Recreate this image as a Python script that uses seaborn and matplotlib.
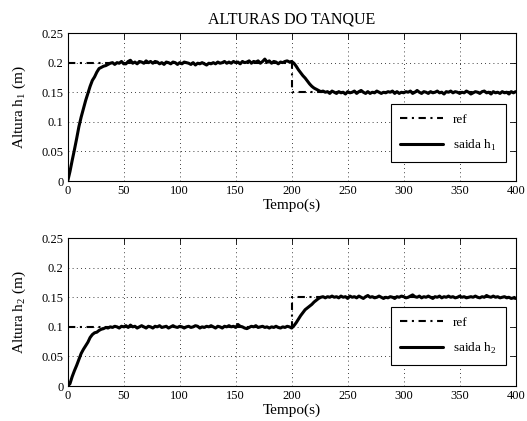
import numpy as np
import seaborn as sns
import matplotlib.pyplot as plt

# ---------------- Data ----------------
# sample times of the simulated tank levels (every 2 s)
tempo = np.arange(0, 401, 2)

# level of tank 1 (m)
h1 = [
    0.000, 0.016, 0.035, 0.053, 0.072, 0.092, 0.108, 0.122, 0.136, 0.148,
    0.160, 0.170, 0.176, 0.184, 0.190, 0.192, 0.194, 0.195, 0.197, 0.199,
    0.200, 0.197, 0.200, 0.199, 0.202, 0.198, 0.198, 0.202, 0.204, 0.199,
    0.201, 0.198, 0.202, 0.201, 0.199, 0.203, 0.200, 0.202, 0.199, 0.202,
    0.201, 0.198, 0.200, 0.197, 0.201, 0.200, 0.198, 0.201, 0.200, 0.197,
    0.200, 0.198, 0.201, 0.200, 0.199, 0.197, 0.200, 0.196, 0.199, 0.198,
    0.200, 0.198, 0.196, 0.199, 0.198, 0.200, 0.198, 0.201, 0.199, 0.200,
    0.202, 0.199, 0.201, 0.199, 0.202, 0.200, 0.201, 0.198, 0.202, 0.200,
    0.201, 0.203, 0.199, 0.202, 0.201, 0.203, 0.199, 0.202, 0.206, 0.201,
    0.203, 0.199, 0.202, 0.201, 0.198, 0.201, 0.200, 0.202, 0.203, 0.201,
    0.202, 0.199, 0.194, 0.188, 0.183, 0.178, 0.174, 0.169, 0.164, 0.160,
    0.157, 0.155, 0.153, 0.151, 0.152, 0.150, 0.151, 0.148, 0.152, 0.150,
    0.148, 0.151, 0.149, 0.150, 0.147, 0.151, 0.149, 0.150, 0.152, 0.148,
    0.151, 0.153, 0.150, 0.148, 0.151, 0.148, 0.150, 0.149, 0.152, 0.150,
    0.148, 0.150, 0.149, 0.151, 0.150, 0.152, 0.148, 0.151, 0.148, 0.150,
    0.149, 0.151, 0.150, 0.152, 0.148, 0.150, 0.153, 0.150, 0.148, 0.151,
    0.150, 0.148, 0.151, 0.149, 0.150, 0.152, 0.149, 0.150, 0.147, 0.151,
    0.150, 0.152, 0.149, 0.151, 0.150, 0.148, 0.150, 0.149, 0.152, 0.150,
    0.147, 0.149, 0.151, 0.150, 0.148, 0.151, 0.152, 0.149, 0.150, 0.147,
    0.151, 0.149, 0.150, 0.148, 0.151, 0.149, 0.150, 0.147, 0.151, 0.149,
    0.151,
]

# level of tank 2 (m)
h2 = [
    0.000, 0.004, 0.016, 0.026, 0.035, 0.045, 0.055, 0.062, 0.068, 0.074,
    0.082, 0.087, 0.090, 0.091, 0.094, 0.096, 0.097, 0.099, 0.098, 0.100,
    0.099, 0.101, 0.100, 0.098, 0.101, 0.100, 0.102, 0.099, 0.103, 0.100,
    0.101, 0.098, 0.100, 0.102, 0.100, 0.098, 0.101, 0.100, 0.098, 0.101,
    0.100, 0.102, 0.099, 0.100, 0.101, 0.098, 0.100, 0.102, 0.100, 0.099,
    0.101, 0.100, 0.098, 0.100, 0.101, 0.099, 0.100, 0.102, 0.101, 0.098,
    0.100, 0.099, 0.101, 0.100, 0.102, 0.100, 0.098, 0.101, 0.100, 0.098,
    0.101, 0.100, 0.102, 0.100, 0.101, 0.099, 0.104, 0.101, 0.100, 0.098,
    0.097, 0.099, 0.101, 0.100, 0.102, 0.099, 0.100, 0.101, 0.099, 0.100,
    0.098, 0.100, 0.099, 0.101, 0.099, 0.098, 0.100, 0.099, 0.101, 0.100,
    0.098, 0.102, 0.107, 0.113, 0.119, 0.124, 0.129, 0.132, 0.135, 0.138,
    0.142, 0.145, 0.148, 0.150, 0.151, 0.149, 0.151, 0.150, 0.152, 0.150,
    0.151, 0.149, 0.152, 0.150, 0.151, 0.148, 0.152, 0.150, 0.151, 0.149,
    0.152, 0.150, 0.148, 0.151, 0.153, 0.150, 0.151, 0.149, 0.150, 0.152,
    0.150, 0.148, 0.150, 0.149, 0.151, 0.150, 0.148, 0.151, 0.150, 0.152,
    0.151, 0.149, 0.150, 0.152, 0.154, 0.151, 0.150, 0.152, 0.149, 0.151,
    0.150, 0.152, 0.150, 0.148, 0.151, 0.150, 0.152, 0.149, 0.151, 0.150,
    0.152, 0.150, 0.151, 0.149, 0.150, 0.152, 0.150, 0.151, 0.149, 0.150,
    0.151, 0.150, 0.152, 0.150, 0.149, 0.151, 0.150, 0.153, 0.151, 0.150,
    0.152, 0.150, 0.151, 0.149, 0.150, 0.151, 0.149, 0.150, 0.148, 0.149,
    0.148,
]

# setpoints (step at t = 200 s)
ref_t = [0, 200, 200, 400]
ref_h1 = [0.20, 0.20, 0.15, 0.15]
ref_h2 = [0.10, 0.10, 0.15, 0.15]

xticks = [0, 50, 100, 150, 200, 250, 300, 350, 400]
yticks = [0, 0.05, 0.1, 0.15, 0.2, 0.25]
ytick_labels = ["0", "0.05", "0.1", "0.15", "0.2", "0.25"]

# ---------------- Style ----------------
sns.set_theme(style="white")
plt.rcParams["font.family"] = ["Liberation Serif", "DejaVu Serif"]
plt.rcParams["mathtext.fontset"] = "custom"
plt.rcParams["mathtext.rm"] = "Liberation Serif"
plt.rcParams.update({
    "xtick.direction": "in", "ytick.direction": "in",
    "xtick.top": True, "ytick.right": True,
    "xtick.major.size": 4, "ytick.major.size": 4,
    "xtick.major.width": 0.6, "ytick.major.width": 0.6,
    "xtick.major.pad": 3, "ytick.major.pad": 3,
    "axes.edgecolor": "black", "axes.linewidth": 0.8,
    "xtick.color": "black", "ytick.color": "black",
    "text.color": "black", "axes.labelcolor": "black",
})

fig = plt.figure(figsize=(5.27, 4.21), dpi=100)
ax1 = fig.add_axes([0.1285, 0.570, 0.850, 0.3515])
ax2 = fig.add_axes([0.1285, 0.083, 0.850, 0.3515])

dashdot = (0, (3.5, 2.2, 1, 2.2))

panels = [
    (ax1, ref_h1, h1, "1", 0.128),
    (ax2, ref_h2, h2, "2", 0.142),
]
for ax, ref, h, idx, leg_y in panels:
    sns.lineplot(x=ref_t, y=ref, ax=ax, sort=False, estimator=None,
                 color="black", lw=1.5, linestyle=dashdot, label="ref")
    sns.lineplot(x=tempo, y=h, ax=ax, sort=False, estimator=None,
                 color="black", lw=2.2, label=r"saida h$_\mathregular{" + idx + "}$")
    ax.set_xlim(0, 400)
    ax.set_ylim(0, 0.25)
    ax.set_xticks(xticks)
    ax.set_yticks(yticks)
    ax.set_yticklabels(ytick_labels)
    ax.tick_params(labelsize=9)
    ax.grid(True, color="black", linestyle=(0, (1, 4)), linewidth=0.6)
    ax.set_xlabel("Tempo(s)", fontsize=11, labelpad=1)
    ax.set_ylabel(r"Altura h$_\mathregular{" + idx + "}$ (m)", fontsize=11, labelpad=10)
    for sp in ax.spines.values():
        sp.set_visible(True)
        sp.set_color("black")
    leg = ax.legend(loc="lower right", bbox_to_anchor=(0.978, leg_y),
                    borderaxespad=0, fontsize=9.5, frameon=True, fancybox=False,
                    edgecolor="black", framealpha=1, handlelength=3.2,
                    borderpad=0.7, labelspacing=0.9)
    leg.get_frame().set_linewidth(0.8)

ax1.set_title("ALTURAS DO TANQUE", fontsize=11.5, pad=7)

fig.savefig("out.png", dpi=100)
